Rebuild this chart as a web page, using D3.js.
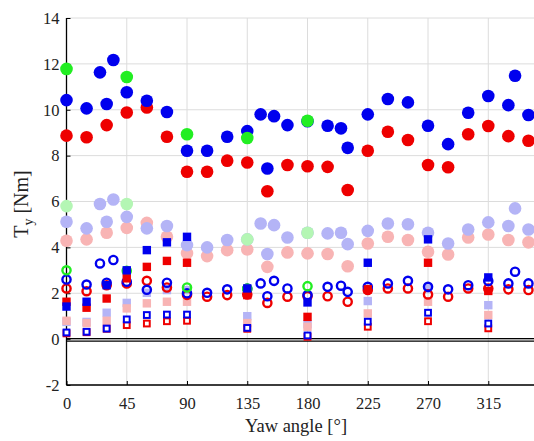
<!DOCTYPE html>
<html>
<head>
<meta charset="utf-8">
<script src="https://cdn.jsdelivr.net/npm/d3@7"></script>
<style>
  body { margin: 0; background: #fff; }
  svg { display: block; font-family: "Liberation Serif", "DejaVu Serif", serif; }
</style>
</head>
<body>
<svg id="chart" width="534" height="441"></svg>
<script>
// yaw angles (deg)
var angles15 = [0, 15, 30, 45, 60, 75, 90, 105, 120, 135, 150, 165, 180, 195, 210, 225, 240, 255, 270, 285, 300, 315, 330, 345];
var anglesB = [0, 15, 25, 30, 35, 45, 60, 75, 90, 105, 120, 135, 145, 150, 155, 165, 180, 195, 205, 210, 225, 240, 255, 270, 285, 300, 315, 330, 335, 345];
var angles45 = [0, 45, 90, 135, 180];
var anglesLightGreen = [0, 45, 135, 180];
var anglesSq = [0, 15, 30, 45, 60, 75, 90, 135, 180, 225, 270, 315];

// filled circles
var blueDots = [10.42, 10.06, 11.63, 10.25, 12.17, 10.76, 10.39, 9.9, 8.21, 8.21, 8.82, 9.07, 9.8, 7.44, 9.72, 9.33, 9.5, 9.3, 9.19, 8.34, 9.8, 10.47, 10.32, 9.3, 8.5, 9.87, 10.6, 10.2, 11.48, 9.77];
var redDots = [8.87, 8.8, 9.33, 9.88, 10.1, 8.82, 7.3, 7.3, 7.78, 7.7, 6.45, 7.59, 7.54, 7.51, 6.5, 8.21, 9.04, 8.68, 7.59, 7.49, 8.93, 9.29, 8.85, 8.65];
var greenDots = [11.78, 11.43, 8.93, 8.77, 9.52];

// light filled circles
var lightBlueDots = [5.12, 4.83, 5.89, 5.12, 6.09, 5.33, 4.83, 4.93, 4.1, 4.0, 4.32, 4.35, 5.04, 3.71, 4.97, 4.43, 4.64, 4.61, 4.64, 4.14, 4.72, 5.04, 5.01, 4.64, 4.17, 4.78, 5.09, 4.93, 5.7, 4.78];
var lightRedDots = [4.29, 4.35, 4.64, 4.85, 5.07, 4.46, 3.75, 3.62, 3.88, 3.91, 3.15, 3.78, 3.74, 3.71, 3.18, 4.17, 4.46, 4.32, 3.81, 3.69, 4.43, 4.56, 4.32, 4.22];
var lightGreenDots = [5.8, 5.89, 4.35, 4.64];

// open circles
var blueRings = [2.6, 2.38, 3.3, 2.46, 3.45, 2.5, 2.15, 2.46, 2.0, 2.02, 2.17, 2.2, 2.43, 1.87, 2.54, 2.21, 1.92, 2.28, 2.33, 2.06, 2.28, 2.43, 2.54, 2.28, 2.17, 2.35, 2.53, 2.43, 2.94, 2.43];
var redRings = [2.21, 2.09, 2.35, 2.43, 2.54, 2.25, 1.93, 1.85, 1.92, 1.95, 1.58, 1.85, 1.87, 1.87, 1.63, 2.14, 2.21, 2.21, 1.95, 1.85, 2.21, 2.21, 2.17, 2.14];
var greenRings = [3.0, 2.98, 2.25, 2.2, 2.31];

// squares
var blueSq = [1.42, 1.63, 2.35, 3.0, 3.88, 4.22, 4.46, 2.21, 1.6, 3.33, 4.35, 2.69];
var redSq = [1.63, 1.37, 1.77, 2.65, 3.15, 3.41, 3.33, 1.92, 0.97, 2.17, 3.33, 2.1];
var lightBlueSq = [0.75, 0.75, 1.15, 1.58, 2.02, 2.14, 2.14, 1.0, 0.65, 1.66, 2.2, 1.48];
var lightRedSq = [0.8, 0.7, 0.8, 1.34, 1.56, 1.63, 1.63, 0.7, 0.54, 1.12, 1.63, 1.05];
var blueOpenSq = [0.29, 0.32, 0.46, 0.86, 1.05, 1.07, 1.07, 0.49, 0.16, 0.76, 1.15, 0.68];
var redOpenSq = [0.25, 0.3, 0.45, 0.61, 0.68, 0.78, 0.8, 0.45, 0.1, 0.54, 0.78, 0.47];

var xTicks = [0, 45, 90, 135, 180, 225, 270, 315];
var yTicks = [-2, 0, 2, 4, 6, 8, 10, 12, 14];

var BLUE = "#0000ee", RED = "#ee0000", GREEN = "#22ee22";
var LBLUE = "#b4b4f6", LRED = "#f8b4b4", LGREEN = "#b4f6b4";

var svg = d3.select("#chart");
var plotL = 66.5, plotT = 18, plotB = 385, plotR = 534;
var x = d3.scaleLinear().domain([0, 360]).range([plotL, plotL + 360 * 1.339]);
var y = d3.scaleLinear().domain([-2, 14]).range([plotB, plotT]);

// grid
var grid = svg.append("g").attr("stroke", "#dcdcdc").attr("stroke-width", 1);
grid.selectAll(".gx").data(xTicks).enter().append("line")
    .attr("x1", function(d) { return x(d); }).attr("x2", function(d) { return x(d); })
    .attr("y1", plotT).attr("y2", plotB);
grid.selectAll(".gy").data(yTicks).enter().append("line")
    .attr("x1", plotL).attr("x2", plotR)
    .attr("y1", function(d) { return y(d); }).attr("y2", function(d) { return y(d); });

// axes (plain hyphen for negatives, like the original)
var fmt = function(d) { return String(d); };
var xAxis = d3.axisBottom(x).tickValues(xTicks).tickFormat(fmt).tickSizeInner(-4).tickSizeOuter(0).tickPadding(12);
var yAxis = d3.axisLeft(y).tickValues(yTicks).tickFormat(fmt).tickSizeInner(-4).tickSizeOuter(0).tickPadding(7);

var gx = svg.append("g").attr("transform", "translate(0," + plotB + ")").call(xAxis);
var gy = svg.append("g").attr("transform", "translate(" + plotL + ",0)").call(yAxis);
[gx, gy].forEach(function(g) {
    g.select(".domain").attr("stroke", "#000").attr("stroke-width", 1.3);
    g.selectAll(".tick line").attr("stroke", "#000");
    g.selectAll("text").attr("font-size", 16.5).attr("fill", "#222")
        .attr("font-family", "'Liberation Serif', serif");
});
gx.select(".domain").attr("d", "M" + plotL + ",0H" + plotR);
gy.select(".domain").attr("d", "M0," + plotT + "V" + plotB);

// zero line (double)
svg.append("line").attr("x1", plotL).attr("x2", plotR)
    .attr("y1", y(0) - 0.5).attr("y2", y(0) - 0.5).attr("stroke", "#000").attr("stroke-width", 1.2);
svg.append("line").attr("x1", plotL).attr("x2", plotR)
    .attr("y1", y(0) + 2).attr("y2", y(0) + 2).attr("stroke", "#000").attr("stroke-width", 1.2);

function pts(angs, vals) {
    return angs.map(function(a, i) { return { a: a, v: vals[i] }; });
}

function dots(angs, vals, color) {
    svg.append("g").selectAll("circle").data(pts(angs, vals)).enter().append("circle")
        .attr("cx", function(d) { return x(d.a); })
        .attr("cy", function(d) { return y(d.v); })
        .attr("r", 6.3)
        .attr("fill", color);
}

function rings(angs, vals, color) {
    svg.append("g").selectAll("circle").data(pts(angs, vals)).enter().append("circle")
        .attr("cx", function(d) { return x(d.a); })
        .attr("cy", function(d) { return y(d.v); })
        .attr("r", 4.1)
        .attr("fill", "none")
        .attr("stroke", color)
        .attr("stroke-width", 2.4);
}

function squares(angs, vals, color, open) {
    var s = open ? 5.8 : 8.4;
    svg.append("g").selectAll("rect").data(pts(angs, vals)).enter().append("rect")
        .attr("x", function(d) { return x(d.a) - s / 2; })
        .attr("y", function(d) { return y(d.v) - s / 2; })
        .attr("width", s).attr("height", s)
        .attr("fill", open ? "#fff" : color)
        .attr("stroke", open ? color : "none")
        .attr("stroke-width", open ? 2 : 0);
}

// light series first
dots(angles15, lightRedDots, LRED);
dots(anglesB, lightBlueDots, LBLUE);
dots(anglesLightGreen, lightGreenDots, LGREEN);
squares(anglesSq, lightBlueSq, LBLUE, false);
squares(anglesSq, lightRedSq, LRED, false);

// strong series
dots(angles15, redDots, RED);
dots(anglesB, blueDots, BLUE);
dots(angles45, greenDots, GREEN);
rings(angles15, redRings, RED);
rings(anglesB, blueRings, BLUE);
rings(angles45, greenRings, GREEN);
squares(anglesSq, redSq, RED, false);
squares(anglesSq, blueSq, BLUE, false);
squares(anglesSq, redOpenSq, RED, true);
squares(anglesSq, blueOpenSq, BLUE, true);

// labels
svg.append("text")
    .attr("x", 296).attr("y", 432)
    .attr("text-anchor", "middle")
    .attr("font-size", 18.5).attr("fill", "#222")
    .text("Yaw angle [°]");

var yl = svg.append("text")
    .attr("transform", "translate(28,204) rotate(-90)")
    .attr("text-anchor", "middle")
    .attr("font-size", 20).attr("fill", "#222");
yl.append("tspan").text("T");
yl.append("tspan").attr("font-size", 14).attr("dy", 5).text("y");
yl.append("tspan").attr("dy", -5).text(" [Nm]");
</script>
</body>
</html>
